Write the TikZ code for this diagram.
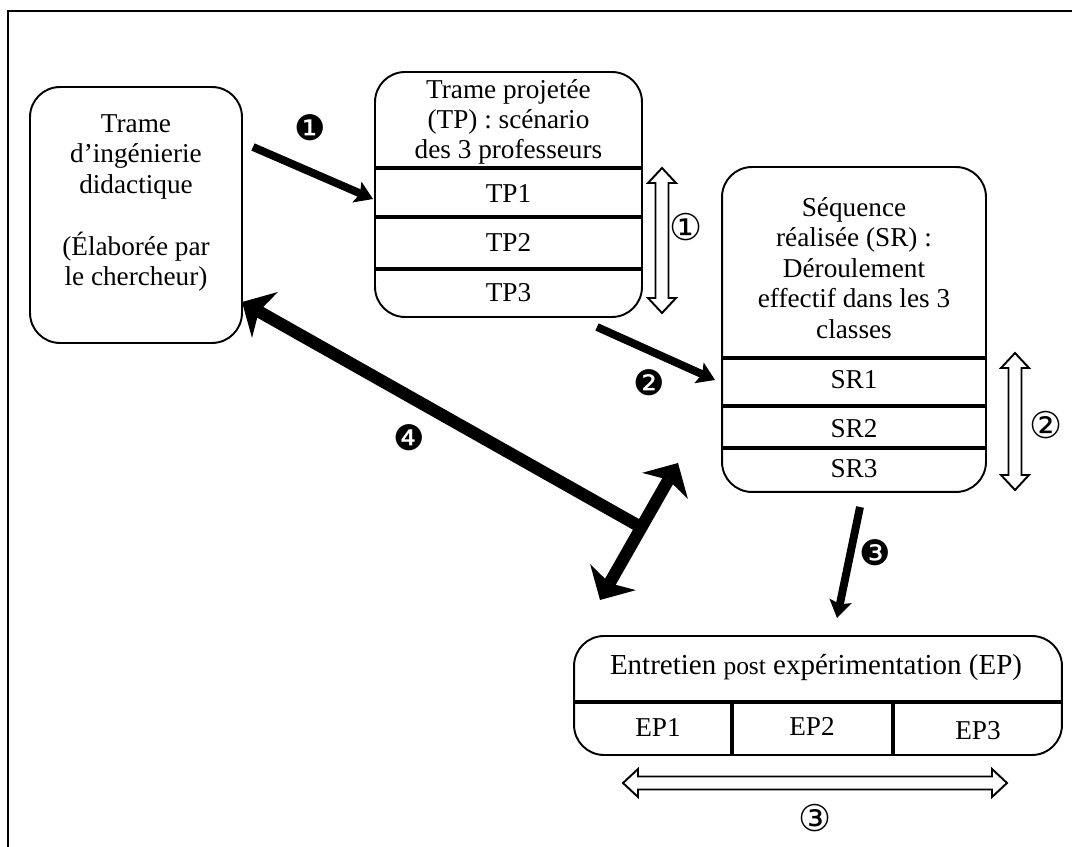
\documentclass[tikz,border=0pt]{standalone}
\usepackage{fontspec}
\setmainfont{Liberation Serif}
\newfontfamily\dejavu{DejaVu Sans}
\usetikzlibrary{arrows.meta, calc}

\tikzset{
    flowtip/.tip={Stealth[length=10pt, width=13pt, inset=2pt, line width=0pt]},
    bigtip/.tip={Stealth[length=15pt, width=30pt, inset=4pt, line width=0pt]},
    pics/hollow/.style={code={
        \draw[line width=1.1pt, fill=white]
            ({-#1/2},0) -- ({-#1/2+15},-14) -- ({-#1/2+15},-6.5)
            -- ({#1/2-15},-6.5) -- ({#1/2-15},-14) -- ({#1/2},0)
            -- ({#1/2-15},14) -- ({#1/2-15},6.5) -- ({-#1/2+15},6.5)
            -- ({-#1/2+15},14) -- cycle;
    }}
}

\begin{document}
\begin{tikzpicture}[
    x=0.02cm, y=-0.02cm,
    box/.style={draw, line width=1.1pt, rounded corners=0.6cm, inner sep=0pt},
    txt/.style={font=\fontsize{15.5}{17.3}\selectfont, align=center, inner sep=0pt},
    divider/.style={line width=2.3pt},
    flow/.style={line width=4.5pt, -{flowtip}},
    big/.style={line width=7pt},
    num/.style={font=\dejavu\fontsize{20}{20}\selectfont, inner sep=0pt},
    circ/.style={font=\dejavu\fontsize{21}{21}\selectfont, inner sep=0pt}
]
    \useasboundingbox (0,0) rectangle (1072,847);

    % outer frame (only top and left edges are visible)
    \draw[line width=1.1pt] (8,900) -- (8,11) -- (1100,11);

    % engineering frame built by the researcher
    \node[box, minimum width=4.24cm, minimum height=5.12cm] (trame) at (136,215) {};
    \node[txt] (trametxt) at (136,203)
        {Trame\\d’ingénierie\\didactique\\[18pt](Élaborée par\\le chercheur)};

    % projected frame
    \node[box, minimum width=5.34cm, minimum height=4.9cm] (tp) at (508.5,194.5) {};
    \node[txt] (tptitle) at (508.5,122) {Trame projetée\\(TP) : scénario\\des 3 professeurs};
    \draw[divider] (tp.west |- 0,168) -- (tp.east |- 0,168);
    \draw[divider] (tp.west |- 0,217) -- (tp.east |- 0,217);
    \draw[divider] (tp.west |- 0,269) -- (tp.east |- 0,269);
    \node[txt] (tp1) at (508.5,194) {TP1};
    \node[txt] (tp2) at (508.5,242) {TP2};
    \node[txt] (tp3) at (508.5,293) {TP3};

    % realised sequence
    \node[box, minimum width=5.28cm, minimum height=6.5cm] (sr) at (854,329.5) {};
    \node[txt] (srtitle) at (854,268)
        {Séquence\\réalisée (SR) :\\Déroulement\\effectif dans les 3\\classes};
    \draw[divider] (sr.west |- 0,358) -- (sr.east |- 0,358);
    \draw[divider] (sr.west |- 0,406) -- (sr.east |- 0,406);
    \draw[divider] (sr.west |- 0,448) -- (sr.east |- 0,448);
    \node[txt] (sr1) at (854,380) {SR1};
    \node[txt] (sr2) at (854,429) {SR2};
    \node[txt] (sr3) at (854,469) {SR3};

    % post-experiment interview
    \node[box, minimum width=9.76cm, minimum height=2.38cm] (ep) at (818,695.5) {};
    \node[txt, font=\fontsize{16.5}{19}\selectfont] (eptitle) at (816,668)
        {Entretien {\fontsize{14.5}{17}\selectfont post} expérimentation (EP)};
    \draw[divider] (ep.west |- 0,702) -- (ep.east |- 0,702);
    \draw[divider] (732,702) -- (732,755);
    \draw[divider] (893,702) -- (893,755);
    \node[txt] (ep1) at (658,728) {EP1};
    \node[txt] (ep2) at (812,726) {EP2};
    \node[txt] (ep3) at (978,731) {EP3};

    % end points of the black arrows
    \coordinate (a1s) at (253,147);
    \coordinate (a1e) at (373,199);
    \coordinate (a2s) at (597,327);
    \coordinate (a2e) at (715,380);
    \coordinate (a3s) at (860,507);
    \coordinate (a3e) at (837,618);
    \coordinate (a4e) at (242,302);
    \coordinate (c4a) at (600,600);
    \coordinate (c4b) at (678,463);
    \coordinate (j4) at ($(c4a)!0.53!(c4b)$);

    % steps 1 to 3
    \draw[flow] (a1s) -- (a1e);
    \draw[flow] (a2s) -- (a2e);
    \draw[flow] (a3s) -- (a3e);

    % step 4: back to the engineering frame
    \draw[big, -{bigtip}] (j4) -- (a4e);
    \draw[big, {bigtip}-{bigtip}] (c4a) -- (c4b);

    % numbers on the arrows
    \node[num] (n1) at (310,128) {❶};
    \node[num] (n2) at (649,383) {❷};
    \node[num] (n3) at (875,553) {❸};
    \node[num] (n4) at (409,438) {❹};

    % hollow double arrows and their numbers
    \pic[rotate=90] at (662,240.5) {hollow=145};
    \pic[rotate=90] at (1015,421.5) {hollow=137};
    \pic at (815,783) {hollow=384};
    \node[circ] (c1) at (686,227) {①};
    \node[circ] (c2) at (1046,425) {②};
    \node[circ] (c3) at (815,818) {③};
\end{tikzpicture}
\end{document}
